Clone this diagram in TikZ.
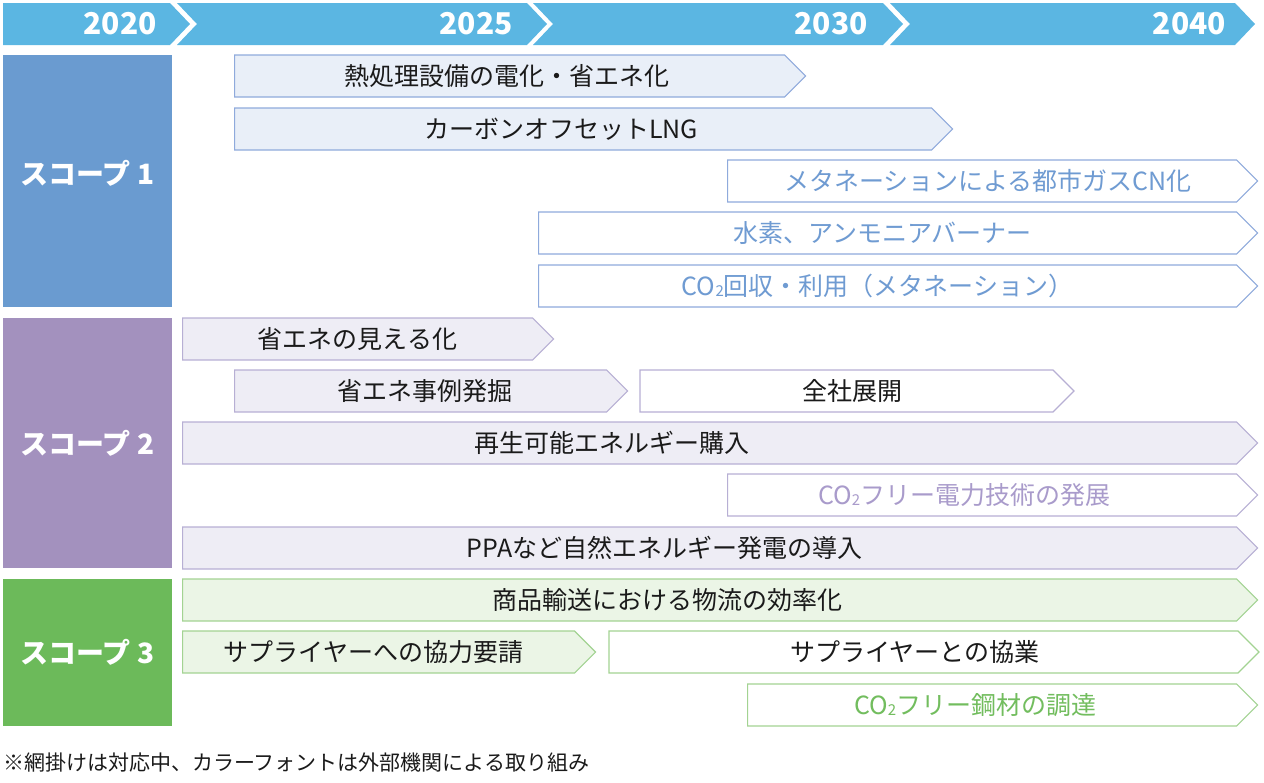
\documentclass[tikz,border=0pt]{standalone}
\usepackage{fontspec}
\setmainfont{Noto Sans CJK JP}
\usepackage{tikz}
\usetikzlibrary{positioning}
\usetikzlibrary{shapes.symbols}

\definecolor{bandblue}{HTML}{5BB6E2}
\definecolor{scopeone}{HTML}{6A9BD0}
\definecolor{scopetwo}{HTML}{A391BE}
\definecolor{scopethree}{HTML}{6CBA5A}
\definecolor{blueline}{HTML}{8FAADC}
\definecolor{bluefill}{HTML}{E9EFF8}
\definecolor{bluetext}{HTML}{6F9BD2}
\definecolor{lavline}{HTML}{B7AFD4}
\definecolor{lavfill}{HTML}{EEEDF5}
\definecolor{lavtext}{HTML}{A99BCB}
\definecolor{greenline}{HTML}{A3D392}
\definecolor{greenfill}{HTML}{EBF5E6}
\definecolor{greentext}{HTML}{72BD5E}
\definecolor{inktext}{HTML}{1A1A1A}

\newcommand{\cotwo}{CO\raisebox{-1pt}{\fontsize{15}{15}\selectfont 2}}

\tikzset{
  roadbar/.style={signal, signal to=east, signal pointer angle=90,
    minimum height=42pt, inner sep=0pt, line width=1.2pt, anchor=west},
  blueshade/.style={roadbar, draw=blueline, fill=bluefill},
  bluewhite/.style={roadbar, draw=blueline, fill=white},
  lavshade/.style={roadbar, draw=lavline, fill=lavfill},
  lavwhite/.style={roadbar, draw=lavline, fill=white},
  greenshade/.style={roadbar, draw=greenline, fill=greenfill},
  greenwhite/.style={roadbar, draw=greenline, fill=white},
  word/.style={inner sep=0pt, text=inktext, font=\fontsize{25}{30}\selectfont},
  blueword/.style={word, text=bluetext},
  lavword/.style={word, text=lavtext},
  greenword/.style={word, text=greentext},
  scopebox/.style={rectangle, minimum width=169pt, inner sep=0pt, text=white,
    font=\fontsize{28}{32}\selectfont\bfseries},
  yearlabel/.style={anchor=east, inner sep=0pt, text=white,
    font=\fontsize{30}{34}\selectfont\bfseries},
}

\begin{document}
\begin{tikzpicture}[x=1pt, y=-1pt]
  \useasboundingbox (0,0) rectangle (1264,782);

  % year band
  \fill[bandblue] (3,3) -- (170,3) -- (190,24) -- (170,45) -- (3,45) -- cycle;
  \foreach \xa/\xb in {177/527, 533/883, 890/1235}
    \fill[bandblue] (\xa,3) -- (\xb,3) -- (\xb+20,24) -- (\xb,45)
      -- (\xa,45) -- (\xa+20,24) -- cycle;
  \node[yearlabel] (y2020) at (157,24) {2020};
  \node[yearlabel] (y2025) at (513,24) {2025};
  \node[yearlabel] (y2030) at (868,24) {2030};
  \node[yearlabel] (y2040) at (1226,24) {2040};

  \node[scopebox, fill=scopeone, minimum height=252pt, text depth=17pt] (scope1) at (87.5,181) {スコープ 1};
  \node[scopebox, fill=scopetwo, minimum height=250pt] (scope2) at (87.5,443) {スコープ 2};
  \node[scopebox, fill=scopethree, minimum height=147pt] (scope3) at (87.5,652.5) {スコープ 3};

  % scope 1
  \node[blueshade, minimum width=571pt] (heat) at (234,76) {};
  \node[blueshade, minimum width=718pt] (lng) at (234,129) {};
  \node[bluewhite, minimum width=530pt] (methane) at (727,181) {};
  \node[bluewhite, minimum width=719pt] (hydrogen) at (538,233) {};
  \node[bluewhite, minimum width=719pt] (capture) at (538,286) {};
  \node[word, xshift=-3pt] (heat-t) at (heat.center) {熱処理設備の電化・省エネ化};
  \node[word, xshift=-22pt] (lng-t) at (lng.center) {カーボンオフセットLNG};
  \node[blueword, xshift=6pt] (methane-t) at (methane.center) {メタネーションによる都市ガスCN化};
  \node[blueword, xshift=-5pt] (hydrogen-t) at (hydrogen.center) {水素、アンモニアバーナー};
  \node[blueword, xshift=-10pt] (capture-t) at (capture.center) {\cotwo 回収・利用（メタネーション）};

  % scope 2
  \node[lavshade, minimum width=371pt] (visual) at (182,339) {};
  \node[lavshade, minimum width=393pt] (cases) at (234,391) {};
  \node[lavwhite, minimum width=434pt, right=11pt of cases] (rollout) {};
  \node[lavshade, minimum width=1075pt] (renew) at (182,443) {};
  \node[lavwhite, minimum width=530pt] (cofree) at (727,495) {};
  \node[lavshade, minimum width=1075pt] (ppa) at (182,548) {};
  \node[word] (visual-t) at (visual.center) {省エネの見える化};
  \node[word, xshift=4pt] (cases-t) at (cases.center) {省エネ事例発掘};
  \node[word, xshift=6pt] (rollout-t) at (rollout.center) {全社展開};
  \node[word, xshift=-98pt] (renew-t) at (renew.center) {再生可能エネルギー購入};
  \node[lavword, xshift=-18pt] (cofree-t) at (cofree.center) {\cotwo フリー電力技術の発展};
  \node[word, xshift=-45pt] (ppa-t) at (ppa.center) {PPAなど自然エネルギー発電の導入};

  % scope 3
  \node[greenshade, minimum width=1075pt] (logistics) at (182,600) {};
  \node[greenshade, minimum width=413pt] (request) at (182,652) {};
  \node[greenwhite, minimum width=650pt, right=12pt of request] (collab) {};
  \node[greenwhite, minimum width=510pt] (steel) at (747,705) {};
  \node[word, xshift=-42pt] (logistics-t) at (logistics.center) {商品輸送における物流の効率化};
  \node[word, xshift=-5pt] (request-t) at (request.center) {サプライヤーへの協力要請};
  \node[word, xshift=-9pt] (collab-t) at (collab.center) {サプライヤーとの協業};
  \node[greenword, xshift=-17pt] (steel-t) at (steel.center) {\cotwo フリー鋼材の調達};

  \node[anchor=west, inner sep=0pt, text=inktext, font=\fontsize{21}{25}\selectfont]
    (note) at (3,763) {※網掛けは対応中、カラーフォントは外部機関による取り組み};
\end{tikzpicture}
\end{document}
